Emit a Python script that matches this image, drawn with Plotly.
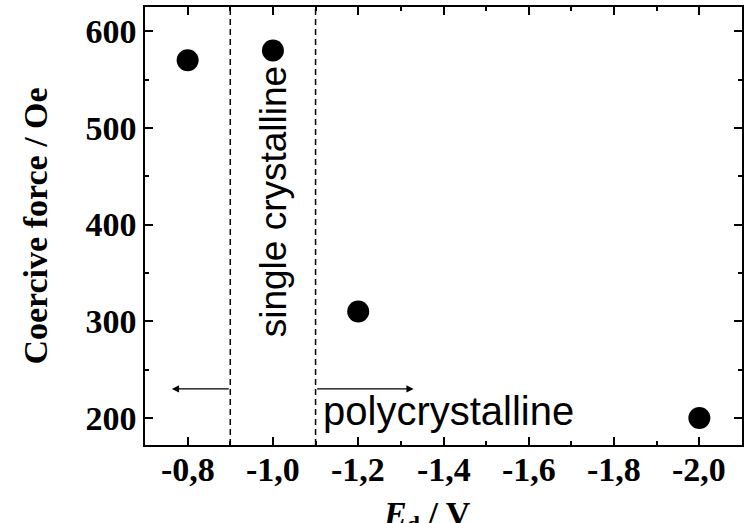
import plotly.graph_objects as go

# Deposition potential (V) and measured coercive force (Oe)
potential = [-0.8, -1.0, -1.2, -2.0]
coercive_force = [570, 580, 310, 200]

x_tick_vals = [-0.8, -1.0, -1.2, -1.4, -1.6, -1.8, -2.0]
x_tick_text = ["-0,8", "-1,0", "-1,2", "-1,4", "-1,6", "-1,8", "-2,0"]
y_tick_vals = [200, 300, 400, 500, 600]

# Region boundaries between growth regimes
boundaries = [-0.9, -1.1]

serif_bold = dict(family="Liberation Serif", size=34, color="black", weight="bold")

fig = go.Figure()
fig.add_trace(go.Scatter(
    x=potential, y=coercive_force, mode="markers",
    marker=dict(size=22, color="black", line=dict(width=0)),
    showlegend=False, cliponaxis=False,
))

axis_common = dict(
    showline=True, linecolor="black", linewidth=1.5, mirror="allticks",
    ticks="inside", ticklen=8, tickwidth=1.5, tickcolor="black",
    showgrid=False, zeroline=False, tickfont=serif_bold,
)

fig.update_xaxes(
    range=[-0.7, -2.1], tickvals=x_tick_vals, showticklabels=False,
    minor=dict(ticks="inside", ticklen=4, tickwidth=1.5, tickcolor="black", dtick=0.1, tick0=-0.8),
    **axis_common,
)
fig.update_yaxes(
    range=[172, 625], tickvals=y_tick_vals,
    minor=dict(ticks="inside", ticklen=4, tickwidth=1.5, tickcolor="black", dtick=50, tick0=200),
    title=dict(text="Coercive force / Oe", font=serif_bold, standoff=28),
    **axis_common,
)

# x tick labels with decimal commas, placed close under the axis
for v, t in zip(x_tick_vals, x_tick_text):
    fig.add_annotation(x=v, y=-0.057, xref="x", yref="paper", text=t, showarrow=False,
                       xanchor="center", yanchor="middle", font=serif_bold)

for b in boundaries:
    fig.add_shape(type="line", xref="x", yref="paper", x0=b, x1=b, y0=0, y1=1,
                  line=dict(color="black", width=1.5, dash="6px,4px"))

# Arrows pointing away from the single-crystalline window
fig.add_annotation(x=-0.763, y=230, ax=-0.9, ay=230, xref="x", yref="y", axref="x", ayref="y",
                   showarrow=True, arrowhead=2, arrowsize=1.2, arrowwidth=1.2, arrowcolor="black", text="")
fig.add_annotation(x=-1.33, y=230, ax=-1.1, ay=230, xref="x", yref="y", axref="x", ayref="y",
                   showarrow=True, arrowhead=2, arrowsize=1.2, arrowwidth=1.2, arrowcolor="black", text="")

fig.add_annotation(x=-1.113, y=207, xref="x", yref="y", text="polycrystalline",
                   showarrow=False, xanchor="left", yanchor="middle",
                   font=dict(family="Liberation Sans", size=40, color="black"))
fig.add_annotation(x=-1.0, y=424, xref="x", yref="y", text="single crystalline",
                   showarrow=False, textangle=-90, xanchor="center", yanchor="middle",
                   font=dict(family="Liberation Sans", size=37, color="black"))

fig.add_annotation(x=0.472, y=-0.163, xref="paper", yref="paper",
                   text="<i>E</i><sub>d</sub> / V", showarrow=False,
                   xanchor="center", yanchor="middle", font=serif_bold)

fig.update_layout(
    width=749, height=523,
    margin=dict(l=145, r=5, t=5, b=78),
    paper_bgcolor="white", plot_bgcolor="white",
)

fig.write_html("out.html")
